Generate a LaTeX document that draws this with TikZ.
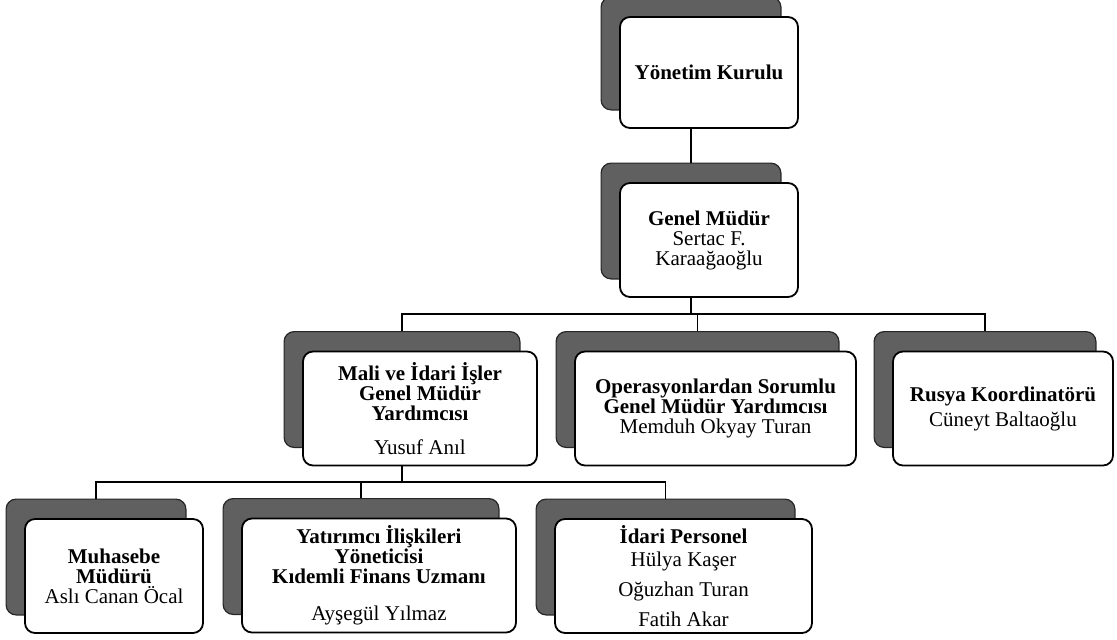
\documentclass[tikz,border=0pt]{standalone}
\usepackage{fontspec}
\setmainfont{Liberation Serif}
\usepackage{tikz}
\usetikzlibrary{fit,backgrounds}
\definecolor{shadowgray}{RGB}{96,96,96}

\begin{document}
\begin{tikzpicture}[x=.5pt,y=-.5pt,
    every node/.style={font=\fontsize{10.5}{10}\selectfont,align=center},
    card/.style={draw,line width=.9pt,rounded corners=5pt,fill=white,inner sep=1pt,minimum height=57pt},
    cardshadow/.style={draw=black!85,line width=.6pt,rounded corners=5pt,fill=shadowgray,inner sep=0pt,xshift=-9pt,yshift=9.5pt},
    conn/.style={line width=.8pt}]
        \useasboundingbox (0,0) rectangle (1117,639);
        % front boxes
        \node[card,minimum width=89pt,minimum height=55.5pt] (yk) at (709,72.5) {\textbf{Yönetim Kurulu}};
        \node[card,minimum width=89pt] (gm) at (709,240) {\textbf{Genel Müdür}\\Sertac F.\\Karaağaoğlu};
        \node[card,minimum width=117pt] (mali) at (420,408.5) {\textbf{Mali ve İdari İşler}\\\textbf{Genel Müdür}\\\textbf{Yardımcısı}\\[7pt]Yusuf Anıl};
        \node[card,minimum width=140.5pt] (op) at (715.5,408.5) {\textbf{Operasyonlardan Sorumlu}\\\textbf{Genel Müdür Yardımcısı}\\Memduh Okyay Turan};
        \node[card,minimum width=110pt] (ru) at (1003,408.5) {\textbf{Rusya Koordinatörü}\\[2.5pt]Cüneyt Baltaoğlu};
        \node[card,minimum width=89pt] (mu) at (114,576) {\textbf{Muhasebe}\\\textbf{Müdürü}\\Aslı Canan Öcal};
        \node[card,minimum width=137pt] (ya) at (379,575.5) {\textbf{Yatırımcı İlişkileri}\\\textbf{Yöneticisi}\\\textbf{Kıdemli Finans Uzmanı}\\[8.5pt]Ayşegül Yılmaz};
        \node[card,minimum width=128.5pt] (ip) at (683.5,576) {\textbf{İdari Personel}\\[1.5pt]Hülya Kaşer\\[5pt]Oğuzhan Turan\\[5pt]Fatih Akar};
        % shadows behind
        \begin{pgfonlayer}{background}
          \foreach \n in {yk,gm,mali,op,ru,mu,ya,ip}
            \node[cardshadow,fit=(\n)] (\n S) {};
        \end{pgfonlayer}
        % connectors
        \coordinate (busA) at (0,314);
        \coordinate (busB) at (0,482);
        \draw[conn] (ykS.south |- yk.south) -- (gmS.north);
        \draw[conn] (gmS.south |- gm.south) -- (gmS.south |- busA);
        \draw[conn] (maliS.north) |- (ruS.north |- busA) -- (ruS.north);
        \draw[conn] (opS.north) -- (opS.north |- busA);
        \draw[conn] (maliS.south |- mali.south) -- (maliS.south |- busB);
        \draw[conn] (muS.north) |- (ipS.north |- busB) -- (ipS.north);
        \draw[conn] (yaS.north) -- (yaS.north |- busB);
      \end{tikzpicture}
\end{document}
